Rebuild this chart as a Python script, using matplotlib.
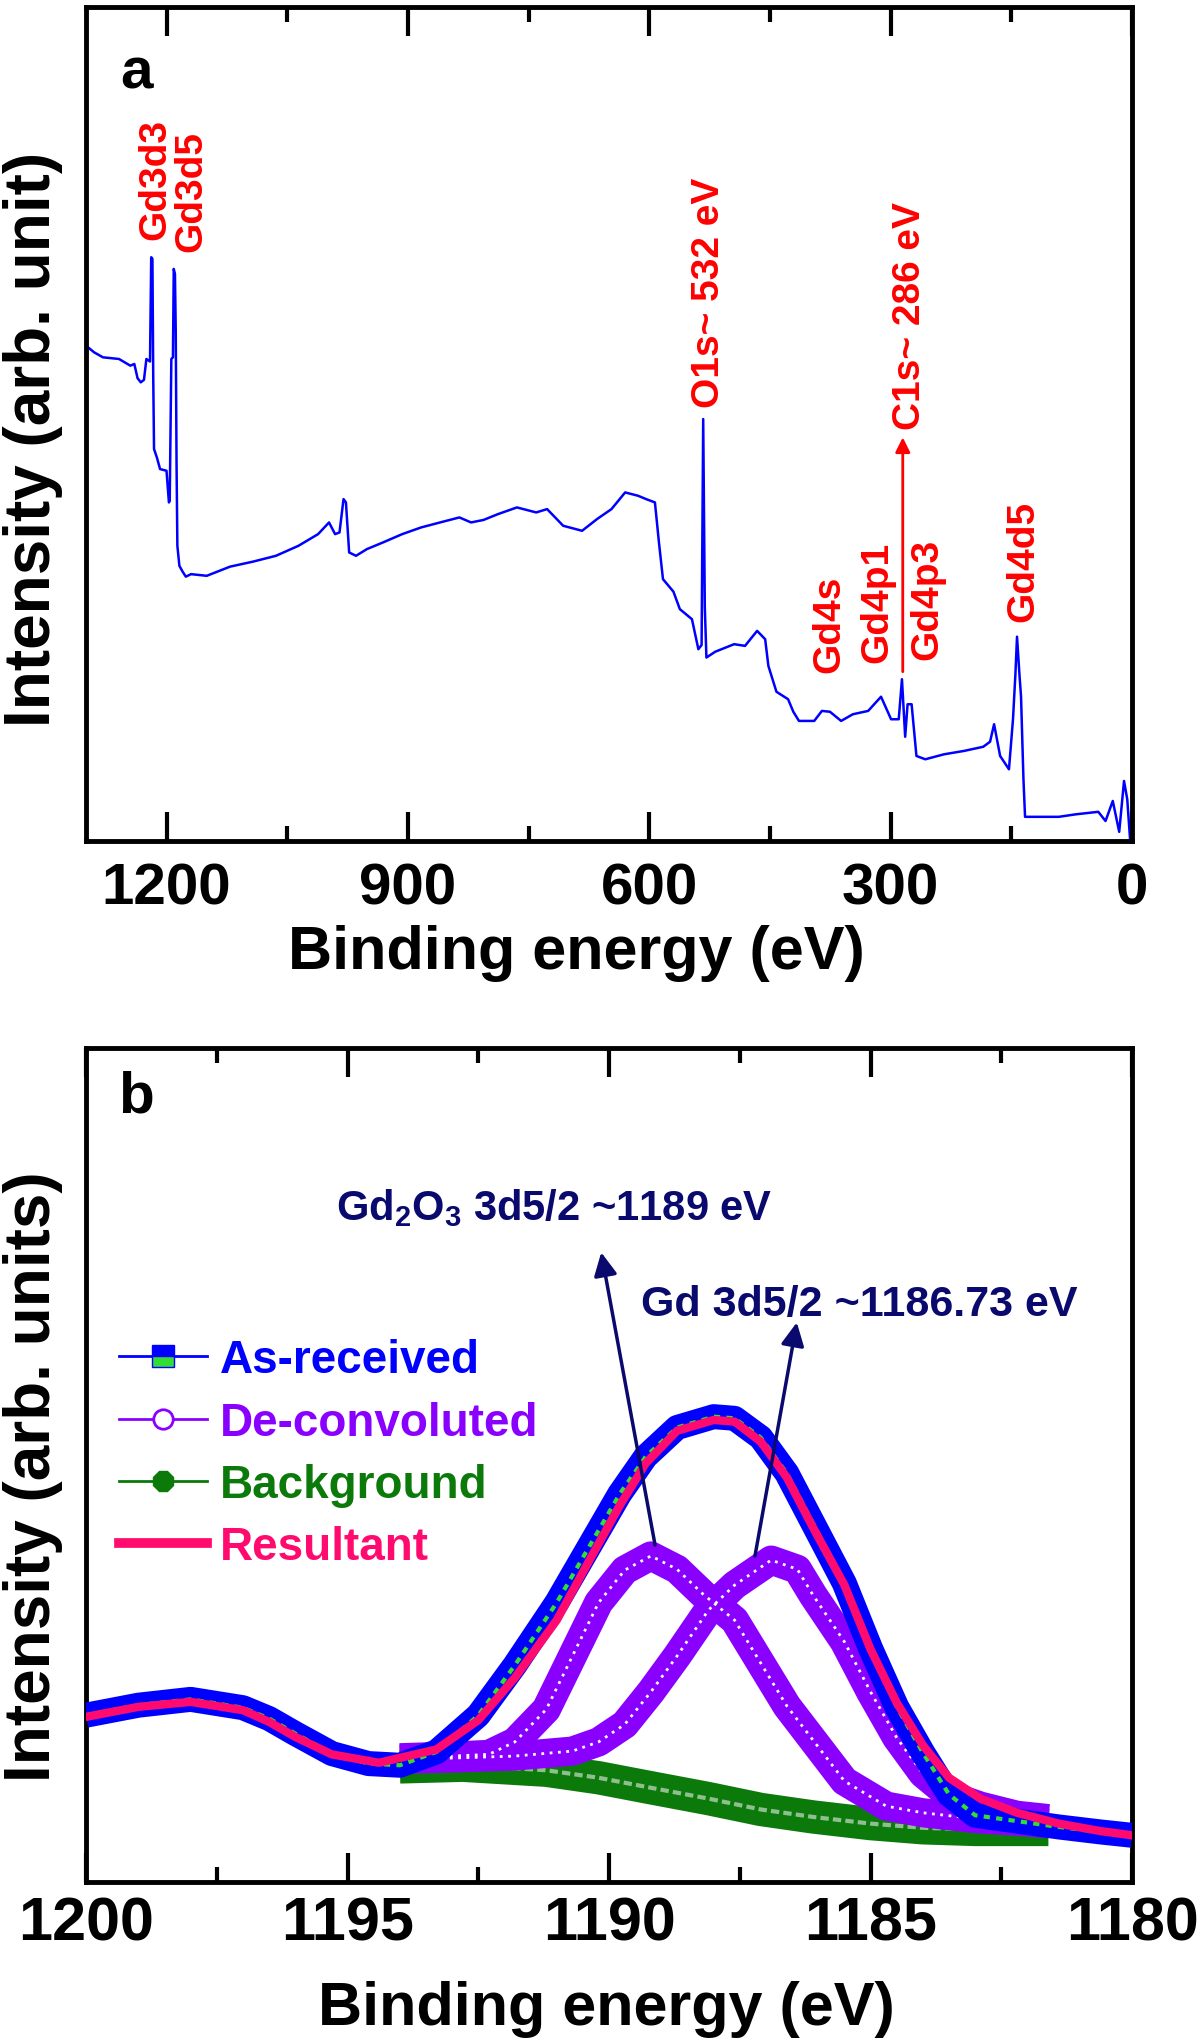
import matplotlib
matplotlib.use('Agg')
import matplotlib.pyplot as plt
from matplotlib.lines import Line2D

plt.rcParams['font.family'] = ['Liberation Sans', 'DejaVu Sans']
plt.rcParams['font.weight'] = 'bold'
plt.rcParams['mathtext.fontset'] = 'custom'
plt.rcParams['mathtext.rm'] = 'Liberation Sans:bold'
plt.rcParams['mathtext.it'] = 'Liberation Sans:bold'
plt.rcParams['mathtext.bf'] = 'Liberation Sans:bold'
plt.rcParams['mathtext.default'] = 'rm'

# ---- panel a: survey spectrum (binding energy eV, intensity arb.) ----
survey_e = [1300, 1290, 1279, 1259, 1245, 1240, 1236, 1232, 1228, 1225, 1220.5, 1219, 1217.5,
            1216.5, 1215.5, 1212, 1208, 1200, 1197, 1196, 1194, 1192, 1191, 1189.5, 1188.5,
            1187.5, 1186.5, 1184, 1180, 1176, 1169.5, 1150, 1121, 1092.5, 1064, 1036, 1011.6,
            998, 990.5, 985, 980, 977, 973, 964.5, 951, 931, 907, 883.6, 860, 836, 821.5, 806,
            788, 764.5, 740.5, 727, 707, 683.5, 665, 647, 630, 614, 604, 593, 588, 583, 570,
            562, 547, 539, 535, 533, 531, 529, 518, 494.6, 481, 466, 456, 452, 442, 427.5, 421,
            414, 395, 385.5, 375.5, 361.6, 347, 328, 312, 299.5, 290, 286, 282, 279, 274, 268,
            257, 233.6, 209, 185, 176.5, 171.5, 164, 153, 148, 145, 143, 140, 138, 135, 133,
            91, 70, 42, 33, 24, 16, 10, 6, 2.5]
survey_i = [59.4, 58.6, 58.0, 57.8, 57.0, 57.2, 55.5, 55.0, 55.3, 57.8, 57.5, 70.0, 69.8,
            55.8, 47.0, 46.0, 44.6, 44.4, 40.6, 40.8, 57.8, 58.0, 68.6, 68.0, 61.0,
            45.0, 35.4, 33.0, 32.3, 31.7, 32.0, 31.8, 32.9, 33.5, 34.2, 35.4, 36.8,
            38.2, 36.8, 37.0, 41.0, 40.6, 34.6, 34.2, 35.0, 35.8, 36.8, 37.6, 38.2, 38.8, 38.2, 38.5,
            39.2, 40.0, 39.4, 39.8, 37.8, 37.2, 38.6, 39.8, 41.8, 41.4, 41.0, 40.6, 35.8, 31.4, 29.9,
            27.8, 26.6, 23.0, 23.5, 50.6, 28.0, 22.0, 22.7, 23.6, 23.4, 25.2, 24.2, 21.0, 17.9, 17.0, 15.5,
            14.4, 14.4, 15.6, 15.5, 14.4, 15.2, 15.6, 17.3, 14.6, 14.6, 19.4, 12.5, 16.4, 16.4, 10.2,
            9.8, 10.4, 10.8, 11.3, 11.9, 14.0, 10.2, 8.6, 14.6, 20.0, 24.5, 20.0, 17.3, 7.4, 2.9,
            2.9, 3.2, 3.5, 2.4, 4.8, 1.1, 7.2, 5.0, 0.2]

# peak labels: (text, energy of baseline, intensity where text starts)
peak_labels = ['Gd3d3', 'Gd3d5', 'O1s~ 532 eV', 'C1s~ 286 eV', 'Gd4s', 'Gd4p1', 'Gd4p3', 'Gd4d5']
peak_label_e = [1201.8, 1157, 513.3, 263.5, 364, 304.5, 242.3, 123]
peak_label_i = [72.2, 70.7, 52.0, 49.4, 20.3, 21.5, 21.8, 26.4]
c1s_arrow_e = 285
c1s_arrow_i = [20.3, 48.4]

# ---- panel b: Gd 3d5/2 region ----
asrec_e = [1200, 1199, 1198, 1197, 1196.5, 1196, 1195.3, 1194.6, 1194, 1193.3, 1192.5, 1191.8,
           1191.0, 1190.4, 1189.8, 1189.3, 1188.7, 1188.0, 1187.6, 1187.1, 1186.6, 1186.1,
           1185.5, 1185.0, 1184.5, 1184.0, 1183.5, 1183.0, 1182.2, 1181.4, 1180.6, 1180.0]
asrec_i = [20.0, 21.2, 21.9, 20.9, 19.6, 17.8, 15.4, 14.2, 14.0, 15.6, 20.0, 26.0,
           33.5, 40.0, 46.5, 51.0, 54.5, 55.8, 55.6, 53.3, 49.0, 43.0,
           35.8, 28.0, 21.0, 15.5, 10.5, 8.0, 7.3, 6.6, 6.0, 5.6]

result_e = [1200, 1199, 1198, 1197, 1196.5, 1196, 1195.3, 1194.4, 1193.3, 1192.5, 1191.8, 1191.0,
            1190.4, 1189.8, 1189.3, 1188.7, 1188.0, 1187.6, 1187.1, 1186.6, 1186.1, 1185.5,
            1185.0, 1184.5, 1184.0, 1183.5, 1182.9, 1182.2, 1181.4, 1180.6, 1180.0]
result_i = [19.8, 21.0, 21.6, 20.6, 19.2, 17.4, 15.3, 14.3, 15.9, 19.4, 24.5, 31.4,
            38.3, 45.1, 50.2, 54.1, 55.4, 55.2, 52.8, 48.5, 42.5, 35.6,
            27.9, 21.5, 16.4, 12.5, 10.0, 8.3, 7.0, 6.1, 5.6]

peak1_e = [1194.0, 1193.0, 1192.3, 1191.8, 1191.2, 1190.7, 1190.2, 1189.7, 1189.2, 1188.7,
           1188.2, 1187.6, 1186.6, 1185.5, 1184.7, 1184.0, 1183.0, 1182.0, 1181.6]
peak1_i = [14.9, 15.1, 15.3, 16.8, 20.7, 27.1, 33.5, 37.4, 39.1, 37.5,
           34.5, 31.4, 21.1, 12.1, 9.1, 8.3, 7.6, 7.2, 7.0]

peak2_e = [1194.0, 1192.8, 1191.8, 1190.7, 1190.2, 1189.7, 1189.2, 1188.7, 1188.1, 1187.6,
           1186.9, 1186.4, 1186.1, 1185.5, 1185.0, 1184.5, 1184.0, 1183.5, 1182.9, 1182.2, 1181.6]
peak2_i = [14.7, 14.9, 15.1, 15.7, 16.8, 18.9, 22.8, 27.1, 32.6, 35.6,
           38.6, 37.5, 34.4, 28.8, 22.8, 17.3, 13.0, 10.4, 9.1, 8.0, 7.6]

bg_e = [1194.0, 1192.8, 1191.2, 1190.2, 1189.2, 1188.1, 1187.1, 1186.1, 1185.0, 1184.0, 1183.0, 1181.6]
bg_i = [13.8, 14.0, 13.4, 12.5, 11.3, 10.0, 8.7, 7.8, 7.0, 6.5, 6.3, 6.3]

legend_names = ['As-received', 'De-convoluted', 'Background', 'Resultant']

BLUE = '#0000ff'
PURPLE = '#8a00ff'
GREEN = '#0b7a0b'
PINK = '#ff0a6e'
NAVY = '#0a0a6e'
RED = '#ff0000'


def style_axes(ax, major, minor, xlim, labelsize, pad):
    ax.set_xlim(*xlim)
    ax.set_ylim(0, 100)
    ax.set_xticks(major)
    ax.set_xticks(minor, minor=True)
    ax.set_yticks([])
    ax.tick_params(axis='x', which='both', direction='in', top=True, bottom=True,
                   width=3, labelsize=labelsize, pad=pad)
    ax.tick_params(axis='x', which='major', length=21)
    ax.tick_params(axis='x', which='minor', length=11)
    for s in ax.spines.values():
        s.set_linewidth(3.5)


fig = plt.figure(figsize=(12, 20.4), dpi=100)

# ---------------- panel a ----------------
axa = fig.add_axes([0.0717, 0.58725, 0.8717, 0.4088])
axa.plot(survey_e, survey_i, color=BLUE, lw=1.8)
style_axes(axa, [1200, 900, 600, 300, 0], [1050, 750, 450, 150], (1300, 0), 42, 15)
axa.set_xlabel('Binding energy (eV)', fontsize=44, fontweight='bold')
axa.xaxis.set_label_coords(0.469, -0.0995)
axa.set_ylabel('Intensity (arb. unit)', fontsize=46, fontweight='bold')
axa.yaxis.set_label_coords(-0.022, 0.483)
axa.text(0.0325, 0.904, 'a', transform=axa.transAxes, fontsize=42, fontweight='bold',
         ha='left', va='baseline')
for t, e, y in zip(peak_labels, peak_label_e, peak_label_i):
    axa.text(e, y, t, color=RED, fontsize=28, fontweight='bold', rotation=90,
             rotation_mode='anchor', ha='left', va='baseline')
axa.annotate('', xy=(c1s_arrow_e, c1s_arrow_i[1]), xytext=(c1s_arrow_e, c1s_arrow_i[0]),
             arrowprops=dict(arrowstyle='-|>', color=RED, lw=2, mutation_scale=22,
                             shrinkA=0, shrinkB=0))

# ---------------- panel b ----------------
axb = fig.add_axes([0.0717, 0.07696, 0.8717, 0.4088])
axb.plot(bg_e, bg_i, color=GREEN, lw=24, solid_capstyle='butt', zorder=2)
axb.plot(bg_e, bg_i, color='#8fbf8f', lw=3, ls=(0, (2, 1)), zorder=2.1)
for pe, pi in [(peak1_e, peak1_i), (peak2_e, peak2_i)]:
    axb.plot(pe, pi, color=PURPLE, lw=21, solid_capstyle='butt', zorder=3)
    axb.plot(pe, pi, color='white', lw=2, ls=(0, (1, 2)), zorder=3.1)
axb.plot(asrec_e, asrec_i, color=BLUE, lw=18, solid_capstyle='butt', zorder=4)
axb.plot(asrec_e, asrec_i, color='#33dd33', lw=3, ls=(0, (1.5, 1.5)), zorder=4.1)
axb.plot(result_e, result_i, color=PINK, lw=6, zorder=5)

style_axes(axb, [1200, 1195, 1190, 1185, 1180], [1197.5, 1192.5, 1187.5, 1182.5],
           (1200, 1180), 44, 10)
axb.set_xlabel('Binding energy (eV)', fontsize=44, fontweight='bold')
axb.xaxis.set_label_coords(0.497, -0.1175)
axb.set_ylabel('Intensity (arb. units)', fontsize=46, fontweight='bold')
axb.yaxis.set_label_coords(-0.022, 0.487)
axb.text(0.031, 0.9245, 'b', transform=axb.transAxes, fontsize=42, fontweight='bold',
         ha='left', va='baseline')

axb.annotate('', xy=(1190.15, 75.5), xytext=(1189.12, 40.4),
             arrowprops=dict(arrowstyle='-|>', color=NAVY, lw=2.5, mutation_scale=35,
                             shrinkA=0, shrinkB=0), zorder=6)
axb.annotate('', xy=(1186.41, 67.1), xytext=(1187.21, 39.1),
             arrowprops=dict(arrowstyle='-|>', color=NAVY, lw=2.5, mutation_scale=35,
                             shrinkA=0, shrinkB=0), zorder=6)
axb.text(1195.22, 79.5, r'Gd$_2$O$_3$ 3d5/2 ~1189 eV', color=NAVY, fontsize=30,
         fontweight='bold', ha='left', va='baseline')
axb.text(1189.39, 68.0, 'Gd 3d5/2 ~1186.73 eV', color=NAVY, fontsize=31,
         fontweight='bold', ha='left', va='baseline')

handles = [
    Line2D([], [], color=BLUE, lw=2, marker='s', ms=16, mfc=BLUE, mec=BLUE,
           fillstyle='top', markerfacecoloralt='#33dd33'),
    Line2D([], [], color=PURPLE, lw=2, marker='o', ms=14, mfc='white', mec=PURPLE, mew=2),
    Line2D([], [], color=GREEN, lw=2, marker='8', ms=15, mfc=GREEN, mec=GREEN),
    Line2D([], [], color=PINK, lw=7),
]
leg = axb.legend(handles, legend_names, loc='upper left', bbox_to_anchor=(0.0315, 0.652),
                 frameon=False, fontsize=33, borderpad=0, borderaxespad=0,
                 handlelength=1.92, handletextpad=0.28, labelspacing=0.4)
for txt, c in zip(leg.get_texts(), [BLUE, PURPLE, GREEN, PINK]):
    txt.set_color(c)
    txt.set_fontweight('bold')

fig.savefig('out.png', dpi=100)
